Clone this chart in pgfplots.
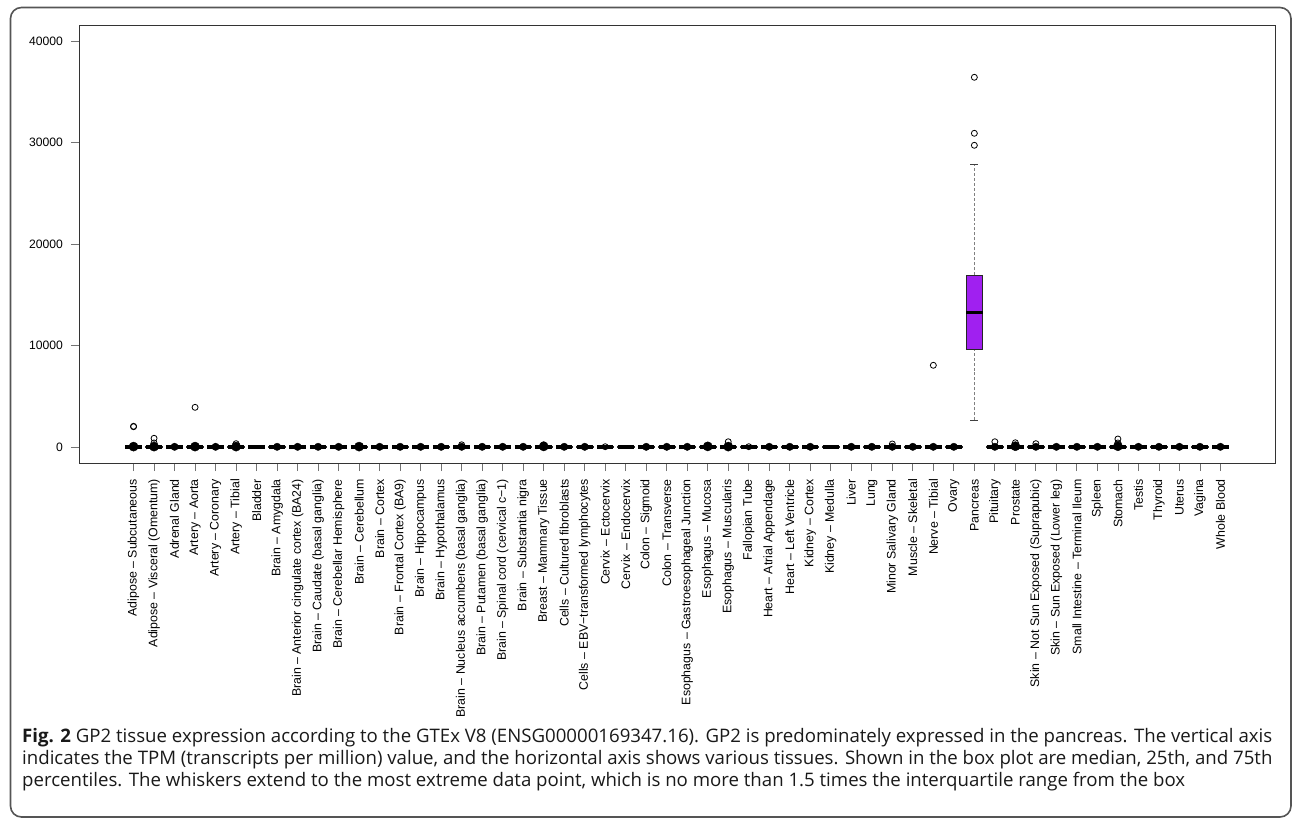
\documentclass[border=0pt]{standalone}
\usepackage{fontspec}
\setmainfont{Liberation Sans}
\newfontfamily\capfont{Open Sans}
\usepackage{pgfplots}
\pgfplotsset{compat=1.18}
\usepgfplotslibrary{statistics}
\definecolor{rpurple}{HTML}{A020F0}
\definecolor{framegray}{HTML}{555555}

\begin{document}
\begin{tikzpicture}
\path[use as bounding box] (0,0) rectangle (1292bp,-818bp);
\draw[framegray, line width=1.6bp, rounded corners=11bp] (10.5bp,-7.5bp) rectangle (1291bp,-817bp);

\begin{axis}[
  at={(79bp,-463bp)}, anchor=south west,
  scale only axis, width=1196bp, height=438bp,
  xmin=-1.66, xmax=56.66, ymin=-1576, ymax=41576,
  axis line style={black!80, line width=0.9bp},
  tick align=outside, xtick pos=left, ytick pos=left,
  major tick length=8bp,
  tick style={black!55, line width=0.8bp},
  ytick={0,10000,20000,30000,40000},
  scaled y ticks=false,
  /pgf/number format/.cd, 1000 sep={}, assume math mode=true, /pgfplots/.cd,
  yticklabel style={font=\fontsize{12.2}{14}\selectfont, inner sep=0pt},
  yticklabel shift=8bp,
  xtick={1,...,54},
  xticklabel style={rotate=90, anchor=east, font=\fontsize{12.4}{14}\selectfont, inner sep=0pt},
  xticklabel shift=8bp,
  xticklabels={{Adipose – Subcutaneous},{Adipose – Visceral (Omentum)},{Adrenal Gland},{Artery – Aorta},{Artery – Coronary},{Artery – Tibial},{Bladder},{Brain – Amygdala},{Brain – Anterior cingulate cortex (BA24)},{Brain – Caudate (basal ganglia)},{Brain – Cerebellar Hemisphere},{Brain – Cerebellum},{Brain – Cortex},{Brain – Frontal Cortex (BA9)},{Brain – Hippocampus},{Brain – Hypothalamus},{Brain – Nucleus accumbens (basal ganglia)},{Brain – Putamen (basal ganglia)},{Brain – Spinal cord (cervical c−1)},{Brain – Substantia nigra},{Breast – Mammary Tissue},{Cells – Cultured fibroblasts},{Cells – EBV−transformed lymphocytes},{Cervix – Ectocervix},{Cervix – Endocervix},{Colon – Sigmoid},{Colon – Transverse},{Esophagus – Gastroesophageal Junction},{Esophagus – Mucosa},{Esophagus – Muscularis},{Fallopian Tube},{Heart – Atrial Appendage},{Heart – Left Ventricle},{Kidney – Cortex},{Kidney – Medulla},{Liver},{Lung},{Minor Salivary Gland},{Muscle – Skeletal},{Nerve – Tibial},{Ovary},{Pancreas},{Pituitary},{Prostate},{Skin – Not Sun Exposed (Suprapubic)},{Skin – Sun Exposed (Lower leg)},{Small Intestine – Terminal Ileum},{Spleen},{Stomach},{Testis},{Thyroid},{Uterus},{Vagina},{Whole Blood}},
  boxplot/draw direction=y,
  boxplot/box extend=0.8,
  boxplot/whisker extend=0.4,
  boxplot/every median/.style={line width=4.5bp, black},
  boxplot/every box/.style={draw=black!85, line width=0.8bp},
  boxplot/draw/lower whisker/.code={%
    \draw[densely dashed, black!50, line width=0.9bp] (boxplot cs:\pgfplotsboxplotvalue{lower whisker}) -- (boxplot cs:\pgfplotsboxplotvalue{lower quartile});
    \draw[black!75, line width=0.9bp] (boxplot whisker cs:\pgfplotsboxplotvalue{lower whisker},0) -- (boxplot whisker cs:\pgfplotsboxplotvalue{lower whisker},1);
  },
  boxplot/draw/upper whisker/.code={%
    \draw[densely dashed, black!50, line width=0.9bp] (boxplot cs:\pgfplotsboxplotvalue{upper quartile}) -- (boxplot cs:\pgfplotsboxplotvalue{upper whisker});
    \draw[black!75, line width=0.9bp] (boxplot whisker cs:\pgfplotsboxplotvalue{upper whisker},0) -- (boxplot whisker cs:\pgfplotsboxplotvalue{upper whisker},1);
  },
  clip=false,
]

% near-zero tissues
\pgfplotsinvokeforeach{1,...,41}{
  \addplot[black, boxplot prepared={draw position=#1, lower whisker=0, lower quartile=1, median=4, upper quartile=12, upper whisker=28}] coordinates {};
}
\pgfplotsinvokeforeach{43,...,54}{
  \addplot[black, boxplot prepared={draw position=#1, lower whisker=0, lower quartile=1, median=4, upper quartile=12, upper whisker=28}] coordinates {};
}

% Pancreas
\addplot[black, mark=o, mark size=3bp, mark options={black, line width=0.8bp},
  boxplot prepared={draw position=42, lower whisker=2630, lower quartile=9626, median=13271, upper quartile=16916, upper whisker=27852},
  boxplot/every box/.style={draw=black!85, fill=rpurple, line width=0.8bp},
  boxplot/every median/.style={line width=3bp, black}]
  coordinates {(0,36424) (0,30906) (0,29724)};

% clusters of outliers at low values (large)
\addplot[only marks, mark=*, mark size=4.6bp, black] coordinates {
(1,40) (2,40) (4,40) (6,40) (12,40) (21,60) (29,60) (30,40) (44,80) (49,80)};
% clusters of outliers at low values (small)
\addplot[only marks, mark=*, mark size=3.7bp, black] coordinates {
(3,20) (5,20) (8,20) (9,20) (10,20) (11,20) (13,20) (14,20) (15,20) (16,20) (17,20) (18,20) (19,20) (20,20) (22,20) (23,20) (26,20) (27,20) (28,20) (32,20) (33,20) (34,20) (36,20) (37,20) (38,20) (39,20) (40,20) (41,20) (43,20) (45,20) (46,20) (47,20) (48,20) (50,20) (51,20) (52,20) (53,20) (54,20)};

% individual outliers
\addplot[only marks, mark=o, mark size=3bp, mark options={black, line width=0.8bp}] coordinates {
(1,2040) (1,2000) (2,860) (2,400) (4,3910) (6,330) (17,220) (21,220) (24,30) (29,170) (30,520) (31,30) (38,300) (40,8050) (43,520) (44,420) (45,330) (49,790) (49,400)};
\end{axis}

\node[anchor=base west, inner sep=0pt, text=black!90, font=\capfont\fontsize{18.7}{22}\selectfont] at (22bp,-742bp) {\textbf{Fig. 2} GP2 tissue expression according to the GTEx V8 (ENSG00000169347.16). GP2 is predominately expressed in the pancreas. The vertical axis};
\node[anchor=base west, inner sep=0pt, text=black!90, font=\capfont\fontsize{18.7}{22}\selectfont] at (22bp,-764bp) {indicates the TPM (transcripts per million) value, and the horizontal axis shows various tissues. Shown in the box plot are median, 25th, and 75th};
\node[anchor=base west, inner sep=0pt, text=black!90, font=\capfont\fontsize{18.7}{22}\selectfont] at (22bp,-786bp) {percentiles. The whiskers extend to the most extreme data point, which is no more than 1.5 times the interquartile range from the box};
\end{tikzpicture}
\end{document}
